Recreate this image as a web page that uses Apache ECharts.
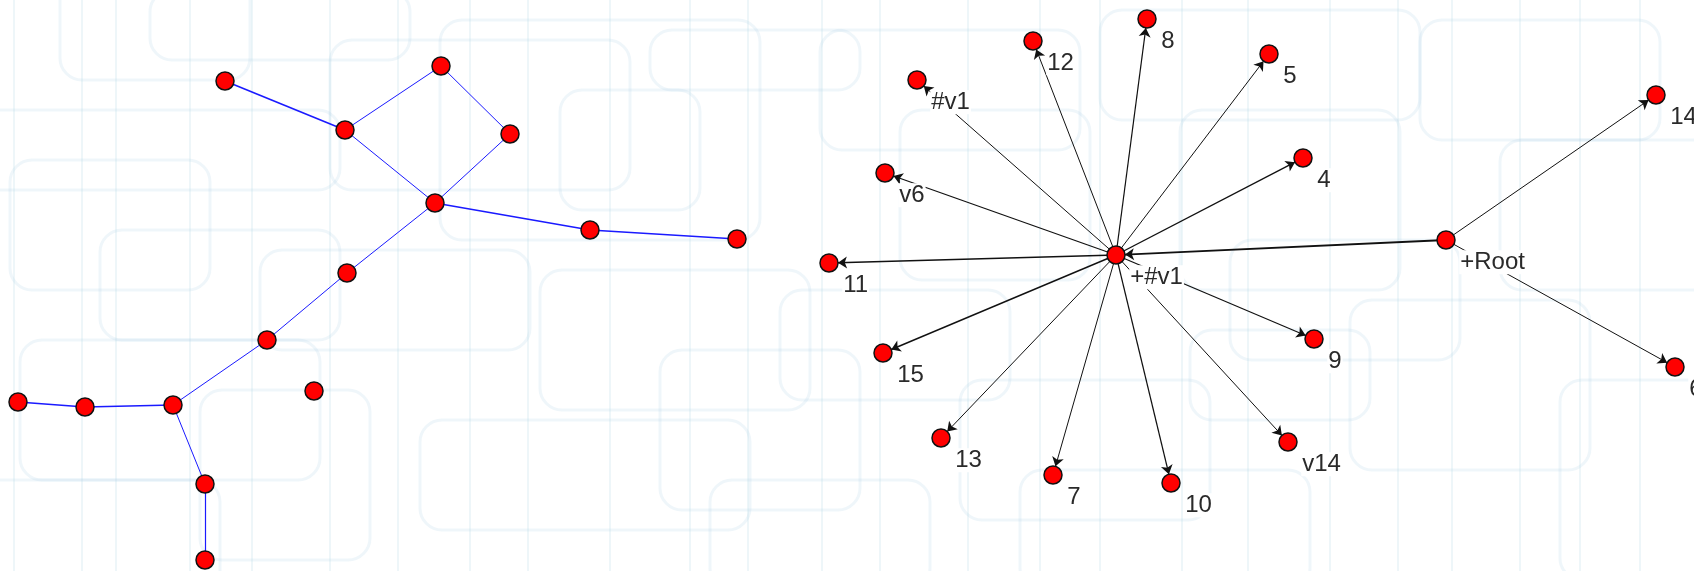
<!DOCTYPE html>
<html>
<head>
<meta charset="utf-8">
<script src="https://cdn.jsdelivr.net/npm/echarts@6/dist/echarts.min.js"></script>
<style>
  html, body { margin: 0; padding: 0; background: #fff; }
  #graph { width: 1694px; height: 571px; }
</style>
</head>
<body>
<div id="graph"></div>
<script>
const chart = echarts.init(document.getElementById("graph"));

// left graph (undirected, blue edges, no labels)
const treeNames = ["t1", "t2", "t3", "t4", "t5", "t6", "t7", "t8", "t9", "t10", "t11", "t12", "t13", "t14", "t15"];
const treeX = [225, 441, 345, 510, 435, 590, 737, 347, 267, 314, 18, 85, 173, 205, 205];
const treeY = [81, 66, 130, 134, 203, 230, 239, 273, 340, 391, 402, 407, 405, 484, 560];
const treeLinks = [
  ["t1", "t3", 1.6], ["t3", "t2", 1], ["t2", "t4", 1], ["t3", "t5", 1],
  ["t4", "t5", 1], ["t5", "t6", 1.6], ["t6", "t7", 1.6], ["t5", "t8", 1],
  ["t8", "t9", 1], ["t9", "t13", 1], ["t11", "t12", 1.6], ["t12", "t13", 1.6],
  ["t13", "t14", 1], ["t14", "t15", 1.2]
];

// right graph (directed, black edges, labelled)
const starNames = ["+#v1", "8", "12", "5", "#v1", "14", "4", "v6", "+Root", "11", "9", "15", "6", "13", "v14", "7", "10"];
const starX = [1116, 1147, 1033, 1269, 917, 1656, 1303, 885, 1446, 829, 1314, 883, 1675, 941, 1288, 1053, 1171];
const starY = [255, 19, 41, 54, 80, 95, 158, 173, 240, 263, 339, 353, 367, 438, 442, 475, 483];
const starLinks = [
  ["+#v1", "8", 1.2], ["+#v1", "12", 1], ["+#v1", "5", 1], ["+#v1", "#v1", 1],
  ["+#v1", "4", 1.4], ["+#v1", "v6", 1.2], ["+#v1", "11", 1.6], ["+#v1", "9", 1.2],
  ["+#v1", "15", 1.4], ["+#v1", "13", 1], ["+#v1", "v14", 1], ["+#v1", "7", 1],
  ["+#v1", "10", 1.2], ["+Root", "+#v1", 1.8], ["+Root", "14", 1], ["+Root", "6", 1]
];

// faint wallpaper behind the graphs
const bgStroke = "rgba(176, 212, 228, 0.2)";
const bgRects = [
  [60, -30, 190, 110], [150, -10, 260, 70], [330, 40, 300, 150], [-20, 110, 360, 80],
  [10, 160, 200, 130], [100, 230, 240, 110], [440, 20, 320, 220], [560, 90, 140, 120],
  [650, 30, 210, 60], [20, 340, 300, 140], [200, 390, 170, 170], [-30, 480, 250, 120],
  [260, 250, 270, 100], [540, 270, 270, 140], [420, 420, 330, 110], [660, 350, 200, 160],
  [820, 30, 260, 120], [900, 110, 190, 170], [780, 290, 230, 110], [960, 380, 250, 140],
  [1100, 10, 320, 110], [1180, 110, 220, 180], [1230, 240, 230, 120], [1350, 300, 240, 170],
  [1420, 20, 240, 120], [1500, 140, 230, 150], [1560, 380, 180, 200], [1020, 470, 290, 120],
  [1190, 330, 180, 90], [710, 480, 220, 110]
];
const bgLines = [14, 82, 116, 190, 252, 330, 398, 470, 528, 610, 690, 748, 822, 880, 968, 1040, 1100, 1182, 1248, 1330, 1398, 1452, 1520, 1580, 1640];

const graphics = [];
bgRects.forEach(function (r) {
  graphics.push({
    type: "rect", silent: true, z: -10,
    shape: { x: r[0], y: r[1], width: r[2], height: r[3], r: 22 },
    style: { fill: "none", stroke: bgStroke, lineWidth: 3 }
  });
});
bgLines.forEach(function (x) {
  graphics.push({
    type: "line", silent: true, z: -10,
    shape: { x1: x, y1: 0, x2: x, y2: 571 },
    style: { stroke: "rgba(176, 212, 228, 0.22)", lineWidth: 2 }
  });
});

function nodes(names, xs, ys, showLabel) {
  return names.map(function (n, i) {
    return { name: n, value: [xs[i], ys[i]], label: { show: showLabel } };
  });
}
function links(list, color) {
  return list.map(function (l) {
    return { source: l[0], target: l[1], lineStyle: { width: l[2], color: color } };
  });
}

const nodeStyle = { color: "#ff0000", borderColor: "#111", borderWidth: 1.5 };

const option = {
  animation: false,
  backgroundColor: "#ffffff",
  graphic: graphics,
  grid: { left: 0, right: 0, top: 0, bottom: 0 },
  xAxis: { type: "value", min: 0, max: 1694, show: false },
  yAxis: { type: "value", min: 0, max: 571, inverse: true, show: false },
  series: [
    {
      type: "graph",
      coordinateSystem: "cartesian2d",
      symbol: "circle",
      symbolSize: 18,
      itemStyle: nodeStyle,
      edgeSymbol: ["none", "none"],
      data: nodes(treeNames, treeX, treeY, false),
      links: links(treeLinks, "#1a1aff"),
      lineStyle: { opacity: 1 },
      emphasis: { disabled: true }
    },
    {
      type: "graph",
      coordinateSystem: "cartesian2d",
      symbol: "circle",
      symbolSize: 18,
      itemStyle: nodeStyle,
      edgeSymbol: ["none", "arrow"],
      edgeSymbolSize: 9,
      data: nodes(starNames, starX, starY, true),
      links: links(starLinks, "#111"),
      lineStyle: { opacity: 1 },
      label: {
        show: true,
        position: [23, 20],
        fontFamily: "Liberation Sans",
        fontSize: 24,
        lineHeight: 24,
        color: "#2a2a2a",
        backgroundColor: "#ffffff",
        padding: [0, 1]
      },
      emphasis: { disabled: true }
    }
  ]
};

chart.setOption(option);

window.addEventListener("resize", function () {
  chart.resize();
});
</script>
</body>
</html>
